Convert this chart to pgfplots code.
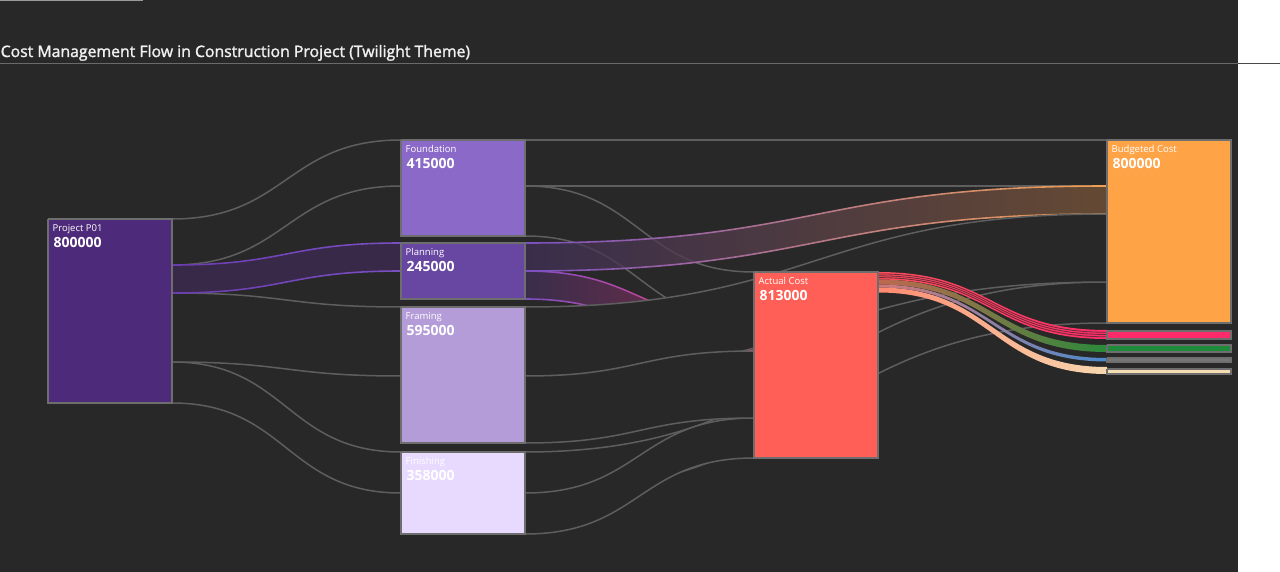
\documentclass[border=0pt]{standalone}
\usepackage{pgfplots}
\pgfplotsset{compat=1.18}
\usepackage{fontspec}
\setmainfont{Open Sans}
\newfontfamily\titlefont{Open Sans}[FakeBold=1.6]
\definecolor{bg}{HTML}{282828}
\definecolor{lg}{HTML}{5E5E5E}
\definecolor{nb}{HTML}{6E6E6E}
\definecolor{cP}{HTML}{4E2A7A}
\definecolor{cFo}{HTML}{8A69C8}
\definecolor{cPl}{HTML}{6747A1}
\definecolor{cFr}{HTML}{B39CD8}
\definecolor{cFi}{HTML}{E8D9FF}
\definecolor{cA}{HTML}{FF5F56}
\definecolor{cB}{HTML}{FFA347}
\definecolor{cPk}{HTML}{FF2A6A}
\definecolor{cG}{HTML}{1E8B3A}
\definecolor{cGr}{HTML}{777777}
\definecolor{cBe}{HTML}{F5DEB3}
\definecolor{rule1}{HTML}{6A6A6A}
\definecolor{rule2}{HTML}{4A4A4A}
\definecolor{rule3}{HTML}{9A9A9A}
\definecolor{ttl}{HTML}{F0F0F0}
\definecolor{p1fill}{HTML}{372947}
\definecolor{p1a}{HTML}{6A3CB0}
\definecolor{p1b}{HTML}{7A4FC0}
\definecolor{plL}{HTML}{403058}
\definecolor{plR1}{HTML}{9A2F58}
\definecolor{plR2}{HTML}{795538}
\definecolor{edL}{HTML}{7C4FC0}
\definecolor{edR1}{HTML}{FF3F7F}
\definecolor{edR2}{HTML}{F0A050}
\definecolor{sep}{HTML}{6A2A3A}
\definecolor{pkL}{HTML}{FF4F5A}
\definecolor{pkR}{HTML}{FF2D6B}
\definecolor{gnL}{HTML}{C06850}
\definecolor{gnR}{HTML}{2A8A3A}
\definecolor{blL}{HTML}{D07878}
\definecolor{blR}{HTML}{4A8ACF}
\definecolor{beL}{HTML}{FF8A70}
\definecolor{beR}{HTML}{F7D8B0}
% band: x0, a0, a1, x1, b0, b1, xmid, options
\newcommand{\band}[8]{%
  \path[#8] (axis cs:#1,#2) .. controls (axis cs:#7,#2) and (axis cs:#7,#5) .. (axis cs:#4,#5)
    -- (axis cs:#4,#6) .. controls (axis cs:#7,#6) and (axis cs:#7,#3) .. (axis cs:#1,#3) -- cycle;}
% edge: x0, a, x1, b, xmid, options
\newcommand{\edge}[6]{%
  \path[#6] (axis cs:#1,#2) .. controls (axis cs:#5,#2) and (axis cs:#5,#4) .. (axis cs:#3,#4);}
\newcommand{\gline}[5]{\edge{#1}{#2}{#3}{#4}{#5}{draw=lg,line width=1.5pt}}
\newcommand{\nodebox}[5]{% x0 y0 x1 y1 color
  \addplot[fill=#5, draw=nb, line width=2pt, line join=miter] coordinates {(#1,#2) (#3,#2) (#3,#4) (#1,#4) (#1,#2)};}
\newcommand{\nodelabel}[4]{% x0 y0 name value
  \node[anchor=base west, inner sep=0, text=white, font=\fontsize{9.5}{11}\selectfont] at (axis cs:#1+4.5,#2+12.5) {#3};
  \node[anchor=base west, inner sep=0, text=white, font=\fontsize{14}{16}\selectfont\bfseries] at (axis cs:#1+5.5,#2+28.5) {#4};}
\begin{document}
\begin{tikzpicture}
\begin{axis}[scale only axis, width=1280pt, height=572pt,
  xmin=0, xmax=1280, ymin=0, ymax=572, y dir=reverse,
  axis lines=none, ticks=none, clip=true]
% background
\addplot[fill=bg, draw=none] coordinates {(0,0) (1238,0) (1238,572) (0,572) (0,0)};
\addplot[fill=white, draw=none] coordinates {(1238,0) (1280,0) (1280,572) (1238,572) (1238,0)};
\addplot[draw=rule1, line width=1pt] coordinates {(0,63.5) (1238,63.5)};
\addplot[draw=rule2, line width=1pt] coordinates {(1238,63.5) (1280,63.5)};
\addplot[draw=rule3, line width=1.2pt] coordinates {(0,0.6) (143,0.6)};
% title
\node[anchor=base west, inner sep=0, text=ttl, font=\fontsize{15.8}{18}\titlefont] at (axis cs:0.5,57) {Cost Management Flow in Construction Project (Twilight Theme)};

% ---- links from Project P01 ----
\band{172}{219}{265}{401}{140}{186}{286.5}{fill=bg, draw=lg, line width=1.5pt}
\band{172}{293}{362}{401}{307}{376}{286.5}{fill=bg, draw=lg, line width=1.5pt}
\band{172}{362}{403}{401}{452}{493}{286.5}{fill=bg, draw=lg, line width=1.5pt}
\band{172}{265}{293}{401}{243}{271}{286.5}{fill=p1fill}
\band{172}{264.2}{265.8}{401}{242.2}{243.8}{286.5}{left color=p1a, right color=p1b}
\band{172}{292.2}{293.8}{401}{270.2}{271.8}{286.5}{left color=p1a, right color=p1b}

% ---- Foundation ----
\band{525}{140}{186}{1107}{140}{186}{816}{fill=bg, draw=lg, line width=1.5pt}
\band{525}{186}{236}{754}{272}{322}{639.5}{fill=bg, draw=lg, line width=1.5pt}

% ---- Planning (highlighted) ----
\band{525}{271}{299}{754}{322}{351}{639.5}{left color=plL, right color=plR1, opacity=0.75}
\band{525}{270.2}{271.8}{754}{321.2}{322.8}{639.5}{left color=edL, right color=edR1}
\band{525}{298.2}{299.8}{754}{350.2}{351.8}{639.5}{left color=edL, right color=edR1}
\band{525}{243}{271}{1107}{186}{214}{816}{left color=plL, right color=plR2, opacity=0.75}
\band{525}{242.2}{243.8}{1107}{185.2}{186.8}{816}{left color=edL, right color=edR2}
\band{525}{270.2}{271.8}{1107}{213.2}{214.8}{816}{left color=edL, right color=edR2}

% ---- Framing / Finishing ----
\band{525}{452}{493}{1107}{282}{323}{816}{fill=bg, draw=lg, line width=1.5pt}
\band{525}{307}{376}{1107}{214}{282}{816}{fill=bg, draw=lg, line width=1.5pt}
\band{525}{493}{534}{754}{418}{458}{639.5}{fill=bg, draw=lg, line width=1.5pt}
\band{525}{376}{443}{754}{351}{418}{639.5}{fill=bg, draw=lg, line width=1.5pt}

% ---- Actual Cost outflows (highlighted) ----
\band{878}{272}{279.5}{1107}{330}{339}{992.5}{left color=pkL, right color=pkR}
\edge{878}{273.9}{1107}{332.3}{992.5}{draw=sep, line width=0.8pt}
\edge{878}{275.8}{1107}{334.5}{992.5}{draw=sep, line width=0.8pt}
\edge{878}{277.6}{1107}{336.8}{992.5}{draw=sep, line width=0.8pt}
\band{878}{279.5}{284.5}{1107}{345}{352}{992.5}{left color=gnL, right color=gnR}
\band{878}{284.5}{287.5}{1107}{358}{361.5}{992.5}{left color=blL, right color=blR}
\band{878}{287.5}{292.5}{1107}{367}{374}{992.5}{left color=beL, right color=beR}

% ---- nodes ----
\nodebox{48}{219}{172}{403}{cP}
\nodebox{401}{140}{525}{236}{cFo}
\nodebox{401}{243}{525}{299}{cPl}
\nodebox{401}{307}{525}{443}{cFr}
\nodebox{401}{452}{525}{534}{cFi}
\nodebox{754}{272}{878}{458}{cA}
\nodebox{1107}{140}{1231}{323}{cB}
\nodebox{1107}{330.5}{1231}{338.5}{cPk}
\nodebox{1107}{345}{1231}{352}{cG}
\nodebox{1107}{358}{1231}{362}{cGr}
\nodebox{1107}{368.5}{1231}{373.5}{cBe}

% ---- labels ----
\nodelabel{48}{219}{Project P01}{800000}
\nodelabel{401}{140}{Foundation}{415000}
\nodelabel{401}{243}{Planning}{245000}
\nodelabel{401}{307}{Framing}{595000}
\nodelabel{401}{452}{Finishing}{358000}
\nodelabel{754}{272}{Actual Cost}{813000}
\nodelabel{1107}{140}{Budgeted Cost}{800000}
\end{axis}
\end{tikzpicture}
\end{document}
